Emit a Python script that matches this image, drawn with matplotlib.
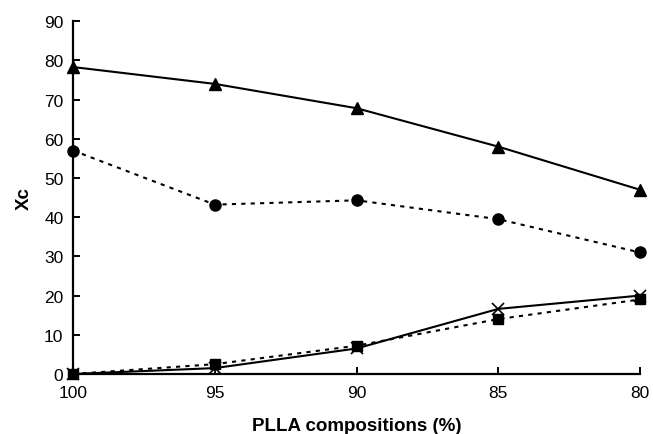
import matplotlib
matplotlib.use('Agg')
import matplotlib.pyplot as plt

plt.rcParams['font.family'] = ['Liberation Sans', 'DejaVu Sans']

compositions = [100, 95, 90, 85, 80]
xc_triangle = [78.3, 74.0, 67.8, 58.0, 47.0]
xc_circle = [57.0, 43.2, 44.3, 39.5, 31.0]
xc_cross = [0.0, 1.5, 6.5, 16.6, 20.0]
xc_square = [0.0, 2.5, 7.2, 14.0, 19.0]

fig = plt.figure(figsize=(6.53, 4.35), dpi=100)
ax = fig.add_axes([0.112, 0.138, 0.868, 0.811])

dot = (0, (2, 2.5))
ax.plot(compositions, xc_triangle, color='black', lw=1.5, marker='^', ms=8, clip_on=False, zorder=3)
ax.plot(compositions, xc_circle, color='black', lw=1.5, ls=dot, marker='o', ms=8, clip_on=False, zorder=3)
ax.plot(compositions, xc_cross, color='black', lw=1.5, marker='x', ms=8, mew=1.2, clip_on=False, zorder=3)
ax.plot(compositions, xc_square, color='black', lw=1.5, ls=dot, marker='s', ms=7, clip_on=False, zorder=3)

ax.set_xlim(100, 80)
ax.set_ylim(0, 90)
ax.set_xticks(compositions)
ax.set_yticks(range(0, 91, 10))

for s in ['top', 'right']:
    ax.spines[s].set_visible(False)
for s in ['left', 'bottom']:
    ax.spines[s].set_linewidth(1.6)

ax.tick_params(direction='in', length=5, width=1.4, labelsize=12.5)
ax.tick_params(axis='x', pad=8)
ax.tick_params(axis='y', pad=7)
ax.set_xlabel('PLLA compositions (%)', fontsize=13.5, fontweight='bold', labelpad=12)
ax.set_ylabel('Xc', fontsize=13.5, fontweight='bold', labelpad=8)

fig.savefig('out.png', dpi=100)
